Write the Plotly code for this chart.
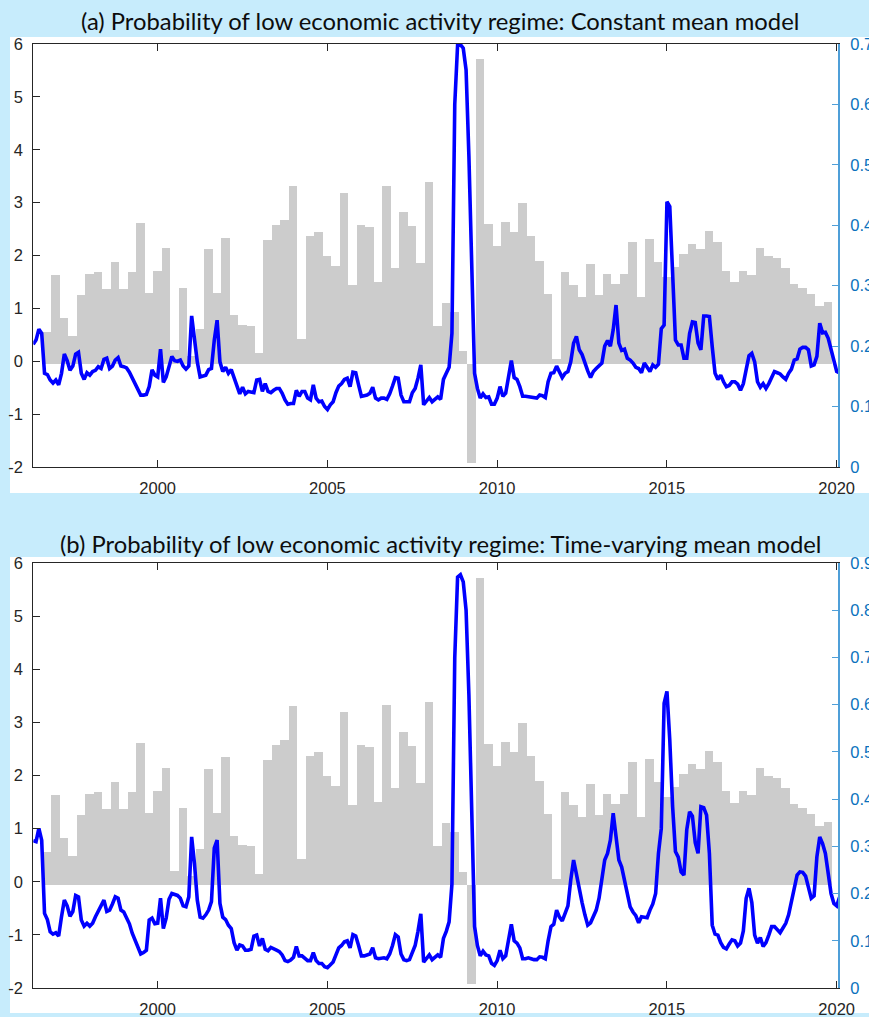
import plotly.graph_objects as go

# ---------------- data ----------------
BAR_FIRST_QUARTER = 1996.75          # centre of first quarterly bar (decimal year)
BAR_VALUES = [
    0.56, 1.64, 0.82, 0.48, 1.25, 1.65, 1.69, 1.37, 1.87, 1.37,
    1.69, 2.62, 1.30, 1.71, 2.15, 0.21, 1.38, 0.10, 0.61, 2.13,
    1.30, 2.34, 0.87, 0.69, 0.67, 0.15, 2.29, 2.58, 2.67, 3.31,
    0.43, 2.37, 2.44, 1.99, 1.80, 3.19, 1.45, 2.57, 2.54, 1.50,
    3.32, 1.77, 2.82, 2.56, 1.85, 3.39, 0.67, 1.10, 0.93, 0.19,
    -1.92, 5.72, 2.60, 2.18, 2.64, 2.44, 2.99, 2.37, 1.90, 1.27,
    0.05, 1.69, 1.44, 1.22, 1.84, 1.25, 1.65, 1.46, 1.65, 2.25,
    1.22, 2.32, 1.88, 1.60, 1.78, 2.02, 2.22, 2.12, 2.46, 2.25,
    1.71, 1.49, 1.71, 1.64, 2.15, 1.99, 1.96, 1.76, 1.46, 1.38,
    1.27, 1.05, 1.12,
]

LINE_FIRST_MONTH = 1996 + 4 / 12     # May 1996, monthly series
PROB_CONSTANT = [
    0.203, 0.21, 0.228, 0.221, 0.155, 0.153, 0.144, 0.139, 0.144, 0.136,
    0.155, 0.187, 0.176, 0.16, 0.167, 0.187, 0.19, 0.155, 0.145, 0.156,
    0.152, 0.158, 0.16, 0.166, 0.163, 0.178, 0.18, 0.163, 0.167, 0.177,
    0.181, 0.167, 0.166, 0.164, 0.157, 0.148, 0.138, 0.127, 0.119, 0.119,
    0.12, 0.133, 0.161, 0.152, 0.149, 0.195, 0.14, 0.149, 0.169, 0.183,
    0.176, 0.175, 0.177, 0.167, 0.162, 0.167, 0.25, 0.213, 0.174, 0.149,
    0.151, 0.152, 0.161, 0.163, 0.21, 0.243, 0.174, 0.158, 0.165, 0.155,
    0.161, 0.149, 0.133, 0.121, 0.132, 0.121, 0.125, 0.124, 0.123, 0.144,
    0.145, 0.125, 0.138, 0.125, 0.123, 0.127, 0.13, 0.13, 0.122, 0.111,
    0.104, 0.105, 0.105, 0.127, 0.117, 0.125, 0.125, 0.114, 0.111, 0.136,
    0.114, 0.108, 0.109, 0.1, 0.095, 0.103, 0.108, 0.123, 0.134, 0.138,
    0.145, 0.147, 0.133, 0.157, 0.156, 0.136, 0.117, 0.118, 0.119, 0.122,
    0.132, 0.114, 0.111, 0.114, 0.114, 0.112, 0.121, 0.134, 0.148, 0.147,
    0.119, 0.108, 0.108, 0.108, 0.123, 0.13, 0.147, 0.169, 0.103, 0.108,
    0.115, 0.108, 0.112, 0.116, 0.112, 0.145, 0.155, 0.165, 0.221, 0.6,
    0.698, 0.699, 0.693, 0.657, 0.514, 0.326, 0.155, 0.13, 0.114, 0.121,
    0.115, 0.116, 0.104, 0.104, 0.114, 0.133, 0.117, 0.122, 0.149, 0.176,
    0.148, 0.145, 0.133, 0.117, 0.117, 0.116, 0.115, 0.115, 0.114, 0.119,
    0.118, 0.115, 0.141, 0.155, 0.156, 0.167, 0.158, 0.148, 0.155, 0.158,
    0.174, 0.205, 0.216, 0.194, 0.186, 0.17, 0.159, 0.148, 0.158, 0.163,
    0.167, 0.172, 0.2, 0.209, 0.2, 0.227, 0.268, 0.205, 0.193, 0.195,
    0.18, 0.177, 0.172, 0.165, 0.163, 0.156, 0.172, 0.165, 0.158, 0.169,
    0.165, 0.17, 0.229, 0.235, 0.439, 0.431, 0.32, 0.21, 0.202, 0.202,
    0.18, 0.18, 0.221, 0.24, 0.239, 0.205, 0.194, 0.25, 0.25, 0.249,
    0.199, 0.155, 0.145, 0.152, 0.141, 0.133, 0.135, 0.141, 0.141, 0.137,
    0.127, 0.138, 0.161, 0.184, 0.188, 0.174, 0.141, 0.132, 0.138, 0.13,
    0.138, 0.149, 0.158, 0.156, 0.154, 0.149, 0.145, 0.155, 0.162, 0.177,
    0.179, 0.195, 0.198, 0.198, 0.194, 0.167, 0.169, 0.183, 0.238, 0.222,
    0.223, 0.213, 0.194, 0.173, 0.158, 0.156,
]
PROB_TIMEVARYING = [
    0.312, 0.31, 0.338, 0.313, 0.158, 0.145, 0.119, 0.114, 0.117, 0.11,
    0.151, 0.186, 0.174, 0.152, 0.162, 0.196, 0.193, 0.144, 0.131, 0.137,
    0.131, 0.137, 0.151, 0.162, 0.176, 0.186, 0.162, 0.165, 0.178, 0.193,
    0.19, 0.165, 0.161, 0.15, 0.136, 0.116, 0.102, 0.084, 0.072, 0.075,
    0.08, 0.144, 0.148, 0.136, 0.137, 0.19, 0.126, 0.148, 0.188, 0.2,
    0.197, 0.196, 0.19, 0.174, 0.172, 0.193, 0.32, 0.264, 0.186, 0.15,
    0.148, 0.155, 0.165, 0.183, 0.296, 0.313, 0.179, 0.15, 0.145, 0.133,
    0.126, 0.096, 0.08, 0.091, 0.089, 0.08, 0.08, 0.082, 0.11, 0.112,
    0.089, 0.105, 0.082, 0.079, 0.086, 0.082, 0.08, 0.077, 0.07, 0.058,
    0.056, 0.059, 0.065, 0.088, 0.068, 0.068, 0.062, 0.058, 0.058, 0.075,
    0.058, 0.052, 0.052, 0.045, 0.043, 0.05, 0.055, 0.07, 0.085, 0.09,
    0.098, 0.1, 0.085, 0.113, 0.11, 0.09, 0.068, 0.068, 0.07, 0.072,
    0.085, 0.064, 0.062, 0.064, 0.064, 0.062, 0.072, 0.09, 0.113, 0.108,
    0.072, 0.06, 0.058, 0.06, 0.078, 0.09, 0.12, 0.157, 0.055, 0.062,
    0.07, 0.06, 0.065, 0.07, 0.065, 0.105, 0.12, 0.14, 0.22, 0.7,
    0.87, 0.875, 0.86, 0.8, 0.62, 0.35, 0.13, 0.09, 0.068, 0.078,
    0.07, 0.068, 0.052, 0.048, 0.058, 0.08, 0.062, 0.068, 0.1, 0.135,
    0.1, 0.095, 0.085, 0.062, 0.062, 0.064, 0.062, 0.06, 0.06, 0.066,
    0.065, 0.062, 0.1, 0.13, 0.135, 0.165, 0.15, 0.142, 0.158, 0.174,
    0.229, 0.271, 0.241, 0.208, 0.181, 0.155, 0.133, 0.138, 0.152, 0.165,
    0.19, 0.232, 0.271, 0.285, 0.313, 0.37, 0.324, 0.271, 0.256, 0.23,
    0.202, 0.172, 0.161, 0.153, 0.138, 0.151, 0.15, 0.149, 0.165, 0.178,
    0.2, 0.285, 0.338, 0.603, 0.628, 0.525, 0.384, 0.289, 0.277, 0.246,
    0.239, 0.335, 0.373, 0.364, 0.308, 0.285, 0.384, 0.382, 0.366, 0.285,
    0.133, 0.114, 0.112, 0.096, 0.086, 0.083, 0.093, 0.102, 0.1, 0.089,
    0.095, 0.121, 0.19, 0.211, 0.181, 0.112, 0.095, 0.107, 0.088, 0.096,
    0.112, 0.13, 0.13, 0.123, 0.117, 0.127, 0.137, 0.155, 0.183, 0.218,
    0.239, 0.246, 0.245, 0.237, 0.209, 0.19, 0.195, 0.278, 0.32, 0.306,
    0.285, 0.248, 0.2, 0.179, 0.174, 0.192,
]

TITLES = [
    "(a) Probability of low economic activity regime: Constant mean model",
    "(b) Probability of low economic activity regime: Time-varying mean model",
]
X_TICKS = [2000, 2005, 2010, 2015, 2020]
LEFT_TICKS = [-2, -1, 0, 1, 2, 3, 4, 5, 6]
LEFT_TICK_TEXT = ["-2", "-1", "0", "1", "2", "3", "4", "5", "6"]
LEFT_RANGE = [-2, 6]
RIGHT_RANGES = [[0, 0.7], [0, 0.9]]
X_RANGE = [1996.336, 2020.047]
BAR_BASE = -0.06

# ---------------- figure ----------------
W, H = 869, 1017
BG = "#c7ecfc"
BAR_COLOR = "#cccccc"
LINE_COLOR = "#0000ff"
AX_DARK = "#262626"
RIGHT_LINE = "#4f9fd8"
RIGHT_TEXT = "#0a72bd"
TICK_FAMILY = "Liberation Sans, Arial, Helvetica, sans-serif"

bar_x = [BAR_FIRST_QUARTER + 0.25 * i for i in range(len(BAR_VALUES))]
bar_len = [v - BAR_BASE for v in BAR_VALUES]

x_dom = [33.3 / W, 838.3 / W]
panels_px = [(44, 467), (563, 988)]          # top / bottom of plot areas
white_px = [(37, 493), (557, 1013)]
title_y_px = [21, 544]
series = [PROB_CONSTANT, PROB_TIMEVARYING]

fig = go.Figure()
layout = dict(
    template="none",
    width=W, height=H, autosize=False,
    margin=dict(l=0, r=0, t=0, b=0, pad=0),
    paper_bgcolor=BG, plot_bgcolor="white",
    showlegend=False, bargap=0,
    shapes=[], annotations=[],
)

tickfont = dict(family=TICK_FAMILY, size=16.5, color=AX_DARK)

for k in range(2):
    xa = "x" if k == 0 else "x2"
    yl = "y" if k == 0 else "y3"
    yr = "y2" if k == 0 else "y4"
    line_x = [LINE_FIRST_MONTH + i / 12 for i in range(len(series[k]))]

    fig.add_trace(go.Bar(
        x=bar_x, y=bar_len, base=BAR_BASE, width=0.25,
        marker=dict(color=BAR_COLOR, line=dict(width=0)),
        xaxis=xa, yaxis=yl, hoverinfo="skip"))
    fig.add_trace(go.Scatter(
        x=line_x, y=series[k], mode="lines",
        line=dict(color=LINE_COLOR, width=3.6),
        xaxis=xa, yaxis=yr, hoverinfo="skip"))

    top, bot = panels_px[k]
    ydom = [1 - bot / H, 1 - top / H]
    xkey = "xaxis" if k == 0 else "xaxis2"
    ylkey = "yaxis" if k == 0 else "yaxis3"
    yrkey = "yaxis2" if k == 0 else "yaxis4"

    layout[xkey] = dict(
        domain=x_dom, anchor=yl, range=X_RANGE, tickvals=X_TICKS,
        ticks="inside", ticklen=7, tickcolor=AX_DARK, tickwidth=1,
        showline=True, linecolor=AX_DARK, linewidth=1, mirror="ticks",
        showgrid=False, zeroline=False, tickfont=tickfont,
        ticklabelstandoff=6, automargin=False,
    )
    layout[ylkey] = dict(
        domain=ydom, anchor=xa, range=LEFT_RANGE,
        tickvals=LEFT_TICKS, ticktext=LEFT_TICK_TEXT,
        ticks="inside", ticklen=7, tickcolor=AX_DARK, tickwidth=1,
        showline=True, linecolor=AX_DARK, linewidth=1,
        showgrid=False, zeroline=False, tickfont=tickfont,
        ticklabelstandoff=6, automargin=False,
    )
    layout[yrkey] = dict(
        overlaying=yl, anchor=xa, side="right", range=RIGHT_RANGES[k], dtick=0.1,
        ticks="inside", ticklen=7, tickcolor=RIGHT_LINE, tickwidth=1,
        showline=True, linecolor=RIGHT_LINE, linewidth=1.5,
        showgrid=False, zeroline=False,
        tickfont=dict(family=TICK_FAMILY, size=16.5, color=RIGHT_TEXT),
        ticklabelstandoff=7, automargin=False,
    )

    wt, wb = white_px[k]
    layout["shapes"].append(dict(
        type="rect", xref="paper", yref="paper",
        x0=10 / W, x1=1, y0=1 - wb / H, y1=1 - wt / H,
        fillcolor="white", line=dict(width=0), layer="below"))
    layout["annotations"].append(dict(
        text=TITLES[k], xref="paper", yref="paper",
        x=440 / W, y=1 - title_y_px[k] / H, xanchor="center", yanchor="middle",
        showarrow=False,
        font=dict(family="Lato, Open Sans, sans-serif", size=23.8, color="#0d0d0d")))

fig.update_layout(**layout)
fig.write_html("out.html", config=dict(displayModeBar=False),
               post_script="document.body.style.margin='0';")
